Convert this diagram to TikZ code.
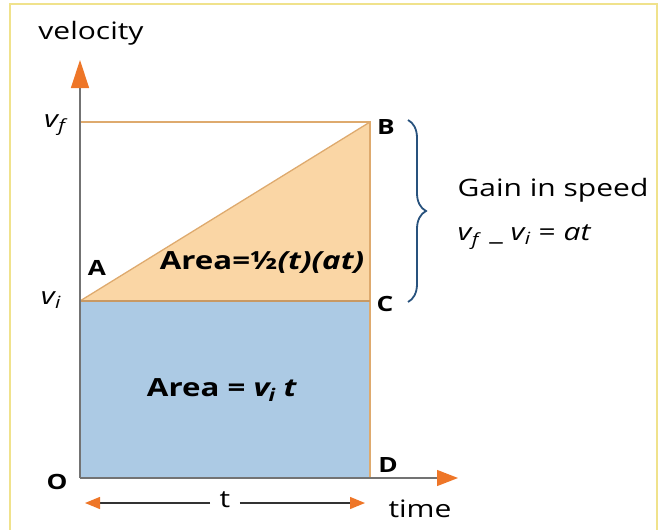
\documentclass[tikz,border=0pt]{standalone}
\usepackage{fontspec}
\setmainfont{Open Sans}[FakeStretch=1.25]
\usetikzlibrary{positioning,arrows.meta,decorations.pathreplacing}

\definecolor{peach}{RGB}{250,214,165}
\definecolor{skyfill}{RGB}{172,202,228}
\definecolor{tanline}{RGB}{222,170,110}
\definecolor{tipor}{RGB}{238,118,40}
\definecolor{bracecol}{RGB}{40,82,125}
\definecolor{framecol}{RGB}{240,226,140}

\newcommand{\velsub}[1]{\textit{v}\textsubscript{\kern-1pt\textit{#1}}}

\begin{document}
\begin{tikzpicture}[
  x=1pt, y=-1pt,
  font=\fontsize{24}{28}\selectfont,
  axis/.style  ={draw=black!55, line width=1.3pt},
  guide/.style ={draw=tanline, line width=1.3pt},
  lbl/.style   ={font=\fontsize{21}{24}\selectfont\bfseries},
  area/.style  ={font=\fontsize{25}{28}\selectfont\bfseries},
  bigtip/.style={-{Triangle[length=28pt,width=18pt,color=tipor]}},
  midtip/.style={-{Triangle[length=21pt,width=16pt,color=tipor]}},
  smalltip/.style={-{Triangle[length=15pt,width=12pt,color=tipor]}},
]
\useasboundingbox (0,0) rectangle (662,530);

% frame
\draw[framecol, line width=1.5pt] (10,535) -- (10,4) -- (657,4) -- (657,535);

% ---------------- corner points ----------------
\coordinate (O) at (80,478);
\coordinate (A) at (80,301);
\coordinate (B) at (370,122);
\coordinate (C) at (370,301);
\coordinate (D) at (370,478);
\coordinate (F) at (80,122);
\coordinate (ytop) at (80,60);
\coordinate (xend) at (458,478);

% ---------------- areas ----------------
\fill[skyfill] (O) rectangle (C);
\fill[peach] (A) -- (B) -- (C) -- cycle;
\draw[guide] (F) -- (B) -- (D);
\draw[guide] (A) -- (B);
\draw[draw=tanline!90!black, line width=2pt] (A) -- (C);

% ---------------- axes ----------------
\draw[axis, bigtip] (O) -- (ytop);
\draw[axis, midtip] (O) -- (xend);

% ---------------- labels ----------------
\node (vel) at (91,33) {velocity};
\node (vf) at (56,125) {\velsub{f}};
\node (vi) at (51,300) {\velsub{i}};
\node[lbl] (Alab) at (97,268) {A};
\node[lbl] (Blab) at (386,127) {B};
\node[lbl] (Clab) at (385,304) {C};
\node[lbl] (Dlab) at (388,465) {D};
\node[lbl] (Olab) at (57,482) {O};

\node[area] (tri) at (262,263) {Area=½\textit{(t)(at)}};
\node[area] (rect) at (222,390) {Area = \textit{v\textsubscript{\kern-1pt i} t}};

% ---------------- time span ----------------
\node (tlab) at (225,500) {t};
\coordinate (tl) at (85,503);
\coordinate (tr) at (365,503);
\draw[black!80, line width=1.3pt, smalltip] (tlab.west) ++(-6,3) -- (tl);
\draw[black!80, line width=1.3pt, smalltip] (tlab.east) ++(6,3) -- (tr);
\node (time) at (420,509) {time};

% ---------------- gain brace ----------------
\coordinate (bt) at (408,120);
\coordinate (bb) at (408,302);
\draw[bracecol, line width=1.8pt,
      decorate, decoration={brace, amplitude=18pt}] (bt) -- (bb);
\node[anchor=west] (gain) at (454,190) {Gain in speed};
\node[anchor=west] (eqn) at (454,237) {\velsub{f}\ \_\ \velsub{i} = \textit{at}};

\end{tikzpicture}
\end{document}
